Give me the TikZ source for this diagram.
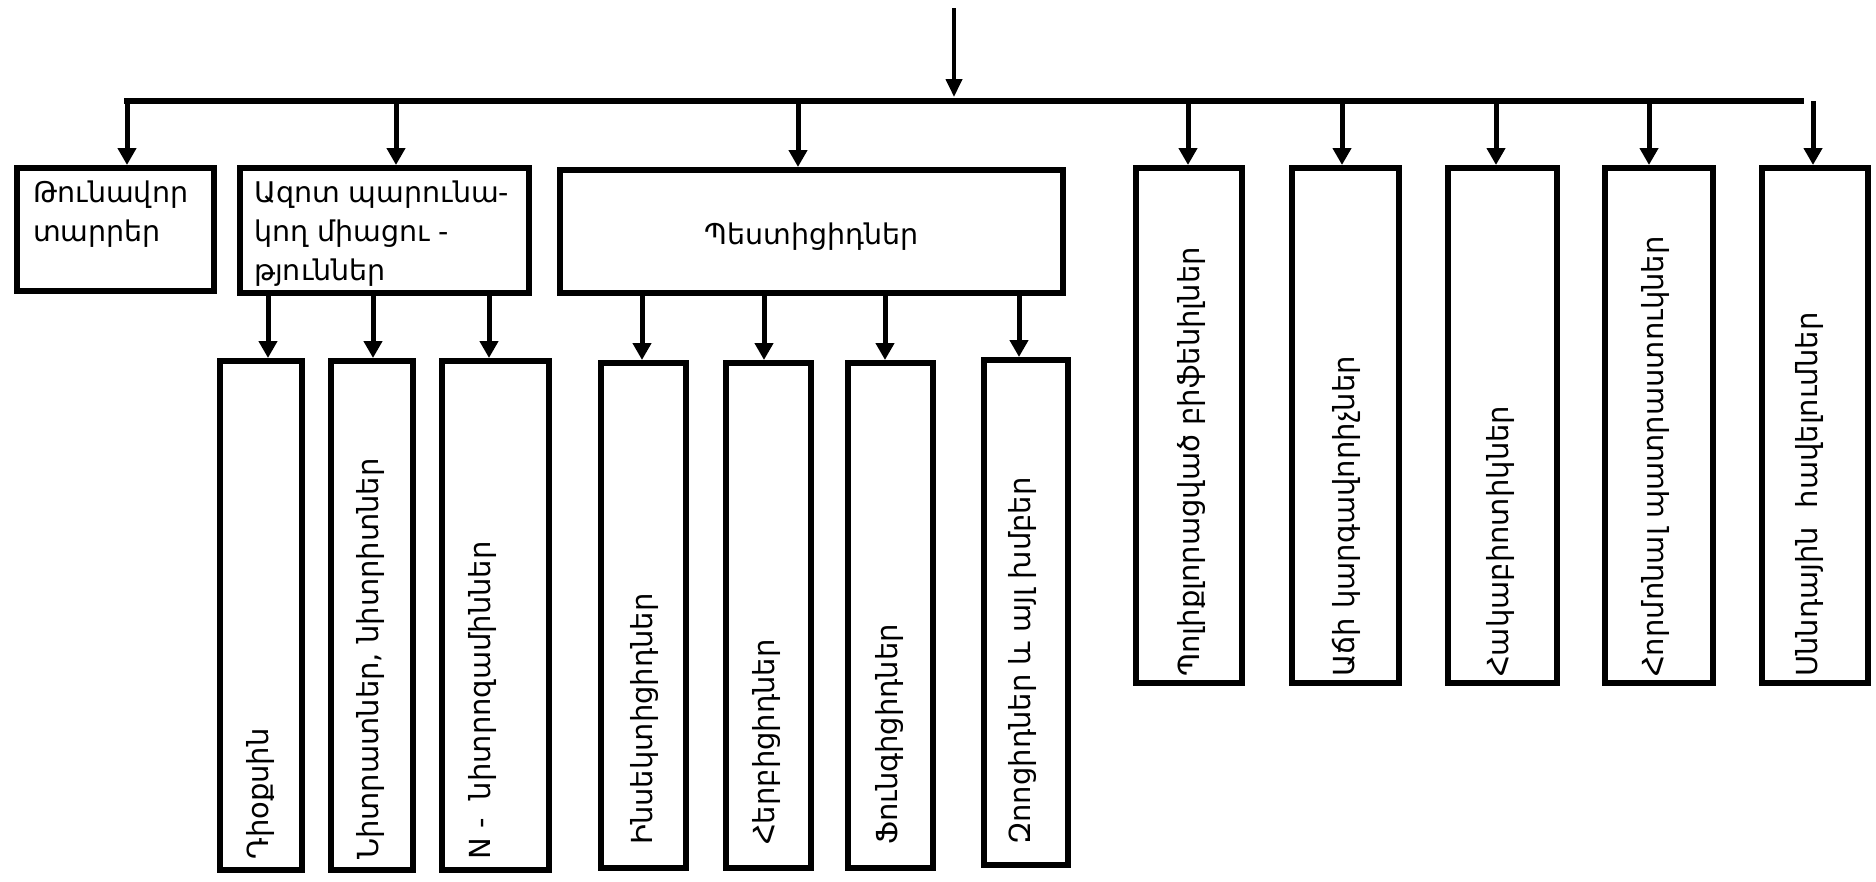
\documentclass[tikz,border=0pt]{standalone}
\usepackage{fontspec}
\setmainfont{DejaVu Sans}
\usetikzlibrary{arrows.meta}
\begin{document}
\begin{tikzpicture}[x=1pt,y=-1pt,
  box/.style={draw, line width=6pt, rectangle, inner sep=0pt},
  conn/.style={line width=5pt, -{Triangle[width=18pt,length=17pt]}},
  hlab/.style={font=\fontsize{28.5}{39}\selectfont, align=left, inner sep=0pt},
  vlab/.style={font=\fontsize{29}{35}\selectfont, rotate=90, anchor=west,
               inner sep=0pt, text height=22pt, text depth=7pt},
]
\useasboundingbox (0,0) rectangle (1876,881);

% ---- first level boxes
\node[box, minimum width=197pt, minimum height=123pt] (b1) at (115.5,229.5) {};
\node[box, minimum width=289pt, minimum height=125pt] (b2) at (384.5,230.5) {};
\node[box, minimum width=503pt, minimum height=123pt] (b3) at (811.5,231.5) {};
\node[box, minimum width=106pt, minimum height=515pt] (r1) at (1189,425.5) {};
\node[box, minimum width=107pt, minimum height=515pt] (r2) at (1345.5,425.5) {};
\node[box, minimum width=109pt, minimum height=515pt] (r3) at (1502.5,425.5) {};
\node[box, minimum width=108pt, minimum height=515pt] (r4) at (1659,425.5) {};
\node[box, minimum width=106pt, minimum height=515pt] (r5) at (1815,425.5) {};

% ---- second level boxes
\node[box, minimum width=82pt,  minimum height=509pt] (s1) at (261,615.5) {};
\node[box, minimum width=82pt,  minimum height=509pt] (s2) at (372,615.5) {};
\node[box, minimum width=107pt, minimum height=509pt] (s3) at (495.5,615.5) {};
\node[box, minimum width=85pt,  minimum height=505pt] (p1) at (643.5,615.5) {};
\node[box, minimum width=85pt,  minimum height=505pt] (p2) at (768.5,615.5) {};
\node[box, minimum width=85pt,  minimum height=505pt] (p3) at (890.5,615.5) {};
\node[box, minimum width=84pt,  minimum height=505pt] (p4) at (1026,612.5) {};

% ---- labels
\node[hlab, anchor=north west] (l1) at (33,181) {Թունավոր\\տարրեր};
\node[hlab, anchor=north west] (l2) at (254,181) {Ազոտ պարունա-\\կող միացու -\\թյուններ};
\node[hlab] (l3) at ([yshift=-5pt]b3.center) {Պեստիցիդներ};

\node[vlab] (ls1) at (261,860) {Դիօքսին};
\node[vlab] (ls2) at (371,860) {Նիտրատներ, նիտրիտներ};
\node[vlab] (ls3) at (483,860) {N -\ \ նիտրոզամիններ};
\node[vlab] (lp1) at (645,845) {Ինսեկտիցիդներ};
\node[vlab] (lp2) at (767,845) {Հերբիցիդներ};
\node[vlab] (lp3) at (890,845) {Ֆունգիցիդներ};
\node[vlab] (lp4) at (1023,845) {Զոոցիդներ և այլ խմբեր};
\node[vlab] (lr1) at (1192,677) {Պոլիքլորացված բիֆենիլներ};
\node[vlab] (lr2) at (1347,677) {Աճի կարգավորիչներ};
\node[vlab] (lr3) at (1501,677) {Հակաբիոտիկներ};
\node[vlab] (lr4) at (1656,677) {Հորմոնալ պատրաստուկներ};
\node[vlab] (lr5) at (1810,677) {Սննդային\ \ հավելումներ};

% ---- incoming arrow and distribution bus
\coordinate (src) at (954,8);
\coordinate (srcEnd) at (954,97);
\draw[line width=4pt, -{Triangle[width=16pt,length=18pt]}] (src) -- (srcEnd);
\coordinate (busL) at (124,101);
\coordinate (busR) at (1804,101);
\draw[line width=6pt] (busL) -- (busR);

% ---- bus taps to first level
\coordinate (t1) at (127,101);
\coordinate (t2) at (396,101);
\coordinate (t3) at (798,101);
\coordinate (t4) at (1188,101);
\coordinate (t5) at (1342,101);
\coordinate (t6) at (1496,101);
\coordinate (t7) at (1649,101);
\coordinate (t8) at (1813,101);
\draw[conn] ([yshift=3pt]t1) -- (t1 |- b1.north);
\draw[conn] (t2) -- (t2 |- b2.north);
\draw[conn] (t3) -- (t3 |- b3.north);
\draw[conn] (t4) -- (t4 |- r1.north);
\draw[conn] (t5) -- (t5 |- r2.north);
\draw[conn] (t6) -- (t6 |- r3.north);
\draw[conn] (t7) -- (t7 |- r4.north);
\draw[conn] (t8) -- (t8 |- r5.north);

% ---- taps to second level
\coordinate (u1) at (268,0);
\coordinate (u2) at (373,0);
\coordinate (u3) at (489,0);
\draw[conn] (u1 |- b2.south) -- (u1 |- s1.north);
\draw[conn] (u2 |- b2.south) -- (u2 |- s2.north);
\draw[conn] (u3 |- b2.south) -- (u3 |- s3.north);
\coordinate (v1) at (642,0);
\coordinate (v2) at (764,0);
\coordinate (v3) at (885,0);
\coordinate (v4) at (1019,0);
\draw[conn] (v1 |- b3.south) -- (v1 |- p1.north);
\draw[conn] (v2 |- b3.south) -- (v2 |- p2.north);
\draw[conn] (v3 |- b3.south) -- (v3 |- p3.north);
\draw[conn] (v4 |- b3.south) -- (v4 |- p4.north);
\end{tikzpicture}
\end{document}
